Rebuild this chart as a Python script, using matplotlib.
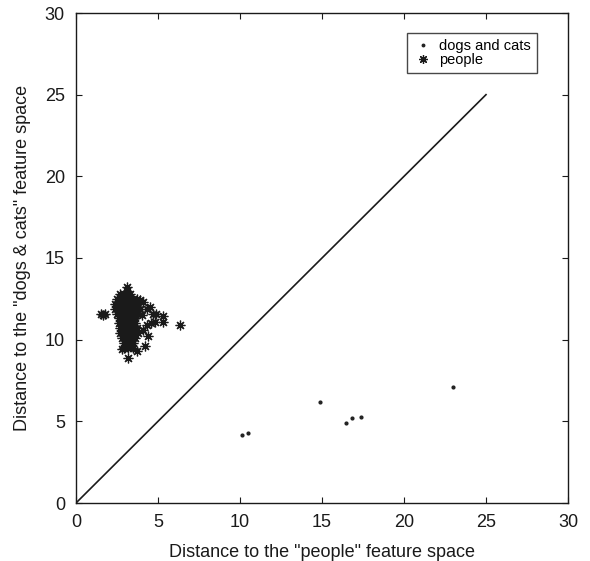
import matplotlib
matplotlib.use("Agg")
import matplotlib.pyplot as plt

plt.rcParams['font.family'] = ['Liberation Sans', 'DejaVu Sans']

# "dogs and cats" samples
dogs_x = [10.1, 10.5, 14.85, 16.45, 16.85, 17.4, 23.0]
dogs_y = [4.15, 4.3, 6.2, 4.9, 5.2, 5.25, 7.1]

# "people" samples
people_x = [
    3.1,
    2.7, 2.9, 3.1, 3.3,
    2.5, 2.7, 2.9, 3.1, 3.3, 3.5, 3.7,
    2.4, 2.6, 2.8, 3.0, 3.2, 3.4, 3.6, 3.8,
    2.4, 2.6, 2.8, 3.0, 3.2, 3.4, 3.6, 3.9,
    2.5, 2.7, 2.9, 3.1, 3.3, 3.5, 3.8,
    2.6, 2.8, 3.0, 3.2, 3.4, 3.6,
    2.6, 2.8, 3.0, 3.2, 3.4, 3.6,
    2.7, 2.9, 3.1, 3.3, 3.5, 3.7,
    2.7, 2.9, 3.1, 3.3, 3.5, 3.8,
    2.8, 3.0, 3.2, 3.4, 3.6,
    2.9, 3.1, 3.3, 3.5,
    2.9, 3.2, 3.5,
    3.2, 3.7, 2.8, 4.2, 4.4, 4.1, 4.3, 4.6, 4.8, 5.3, 5.3, 4.5,
    4.7, 4.9, 4.3, 4.1, 3.9, 4.0, 6.35, 1.55, 1.75, 1.65, 3.1,
]
people_y = [
    13.0,
    12.8, 12.8, 12.8, 12.8,
    12.5, 12.5, 12.5, 12.5, 12.5, 12.5, 12.5,
    12.2, 12.2, 12.2, 12.2, 12.2, 12.2, 12.2, 12.2,
    11.9, 11.9, 11.9, 11.9, 11.9, 11.9, 11.9, 11.9,
    11.6, 11.6, 11.6, 11.6, 11.6, 11.6, 11.6,
    11.3, 11.3, 11.3, 11.3, 11.3, 11.3,
    11.0, 11.0, 11.0, 11.0, 11.0, 11.0,
    10.7, 10.7, 10.7, 10.7, 10.7, 10.7,
    10.4, 10.4, 10.4, 10.4, 10.4, 10.4,
    10.1, 10.1, 10.1, 10.1, 10.1,
    9.8, 9.8, 9.8, 9.8,
    9.5, 9.5, 9.5,
    8.9, 9.3, 9.4, 9.6, 10.2, 10.6, 10.9, 11.0, 11.1, 11.45, 11.1, 12.0,
    11.6, 11.6, 11.9, 12.3, 12.4, 11.5, 10.9, 11.6, 11.6, 11.5, 13.2,
]

line_x = [0, 25]
line_y = [0, 25]

x_ticks = [0, 5, 10, 15, 20, 25, 30]
y_ticks = [0, 5, 10, 15, 20, 25, 30]

fig = plt.figure(figsize=(5.90, 5.61), dpi=100)
ax = fig.add_axes([76/590, 58/561, 492/590, 490/561])

ax.plot(dogs_x, dogs_y, linestyle='none', marker='.', markersize=4,
        color='#222222', label='dogs and cats')
ax.plot(people_x, people_y, linestyle='none', marker=(8, 2, 0), markersize=7,
        markeredgewidth=0.9, color='#1a1a1a', label='people')
ax.plot(line_x, line_y, color='#1a1a1a', linewidth=1.2)

ax.set_xlim(0, 30)
ax.set_ylim(0, 30)
ax.set_xticks(x_ticks)
ax.set_yticks(y_ticks)
ax.tick_params(direction='in', length=4, width=0.8, top=True, right=True,
               labelsize=13, colors='#1a1a1a', pad=8)
for s in ax.spines.values():
    s.set_linewidth(1.0)
    s.set_color('#1a1a1a')

ax.set_xlabel('Distance to the "people" feature space', fontsize=13, labelpad=9,
              color='#1a1a1a')
ax.set_ylabel('Distance to the "dogs & cats" feature space', fontsize=13, labelpad=10,
              color='#1a1a1a')

leg = ax.legend(loc='upper right', bbox_to_anchor=(0.937, 0.959), fontsize=10.5,
                frameon=True, fancybox=False, edgecolor='#1a1a1a',
                handlelength=1.5, handletextpad=0.35, borderpad=0.4,
                labelspacing=0.0, borderaxespad=0, markerscale=0.9)
leg.get_frame().set_linewidth(1.0)

fig.savefig('out.png', dpi=100)
